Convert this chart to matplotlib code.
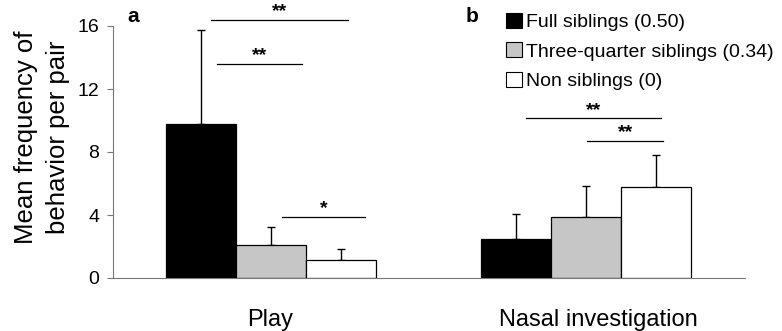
import matplotlib
matplotlib.use("Agg")
import matplotlib.pyplot as plt
import numpy as np
from matplotlib.patches import Patch

plt.rcParams["font.family"] = ["Liberation Sans", "DejaVu Sans"]

behaviors = ["Play", "Nasal investigation"]
groups = ["Full siblings (0.50)", "Three-quarter siblings (0.34)", "Non siblings (0)"]

# mean frequency per pair, one list per sibling group (Play, Nasal investigation)
full_sib = [9.75, 2.5]
three_q_sib = [2.1, 3.9]
non_sib = [1.15, 5.75]
# upper error bars
full_err = [6.0, 1.55]
three_q_err = [1.15, 1.95]
non_err = [0.7, 2.05]

# significance brackets: (x_start, x_end, y, label)
brackets = [
    (-0.19, 0.245, 16.4, "**"),
    (-0.17, 0.10, 13.6, "**"),
    (0.035, 0.30, 3.9, "*"),
    (0.81, 1.24, 10.15, "**"),
    (1.005, 1.245, 8.7, "**"),
]

colors = ["black", "#c6c6c6", "white"]
values = [full_sib, three_q_sib, non_sib]
errors = [full_err, three_q_err, non_err]

fig = plt.figure(figsize=(7.82, 3.31), dpi=100)
ax = fig.add_axes([113 / 782, 53 / 331, 632 / 782, 252 / 331])

x = np.arange(len(behaviors))
w = 0.222
for i, (vals, errs, c) in enumerate(zip(values, errors, colors)):
    pos = x + (i - 1) * w
    ax.bar(pos, vals, width=w, color=c, edgecolor="black", linewidth=0.9, zorder=2)
    ax.errorbar(pos, vals, yerr=[np.zeros(len(errs)), errs], fmt="none",
                ecolor="black", elinewidth=1.0, capsize=3, capthick=1.0, zorder=1)

for x0, x1, y, lab in brackets:
    ax.plot([x0, x1], [y, y], color="black", lw=0.9, clip_on=False)
    ax.annotate(lab, xy=((x0 + x1) / 2, y), xytext=(0, 2.5), textcoords="offset points",
                ha="center", va="baseline", fontsize=14, fontweight="bold",
                annotation_clip=False)

ax.set_xlim(-0.5, 1.505)
ax.set_ylim(0, 16)
ax.set_yticks([0, 4, 8, 12, 16])
ax.tick_params(axis="y", labelsize=14, length=4, width=0.8, pad=6,
               direction="out", color="#777777")
ax.set_xticks([0, 1.04])
ax.set_xticklabels(behaviors, fontsize=17)
ax.tick_params(axis="x", length=0, pad=22)
for s in ["top", "right"]:
    ax.spines[s].set_visible(False)
for s in ["left", "bottom"]:
    ax.spines[s].set_color("#777777")
    ax.spines[s].set_linewidth(0.8)

ax.set_ylabel("Mean frequency of\nbehavior per pair", fontsize=18.5, linespacing=1.4)
ax.yaxis.set_label_coords(-0.068, 0.56)

fig.text(133 / 782, 1 - 17 / 331, "a", fontsize=15, fontweight="bold", ha="center", va="center")
fig.text(472 / 782, 1 - 17 / 331, "b", fontsize=15, fontweight="bold", ha="center", va="center")

handles = [Patch(facecolor=c, edgecolor="black", linewidth=0.8) for c in colors]
fig.legend(handles, groups, loc="upper left", bbox_to_anchor=(506 / 782, 1 - 13 / 331),
           frameon=False, fontsize=14, handlelength=0.8, handleheight=0.8,
           handletextpad=0.25, labelspacing=0.58, borderaxespad=0, borderpad=0.0)

fig.savefig("out.png", dpi=100)
